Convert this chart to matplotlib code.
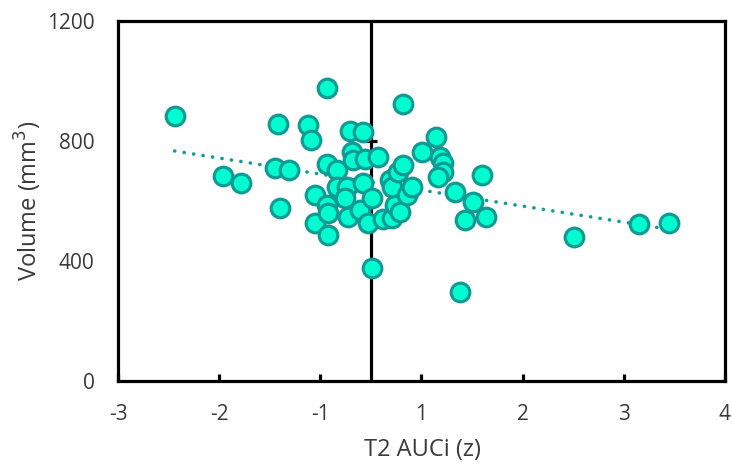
import numpy as np
import matplotlib.pyplot as plt

plt.rcParams['font.family'] = ['Open Sans', 'DejaVu Sans']

# T2 AUCi (z) position on the drawn axis and volume (mm3)
auci = np.array([-2.44, -1.96, -1.78, -1.42, -1.40, -1.45, -1.31, -1.12, -1.09, -1.05,
                 -1.05, -0.93, -0.93, -0.93, -0.92, -0.92, -0.84, -0.84, -0.74, -0.76,
                 -0.73, -0.71, -0.69, -0.68, -0.61, -0.58, -0.58, -0.56, -0.53, -0.49,
                 -0.49, -0.43, -0.38, -0.29, -0.26, -0.21, -0.31, -0.29, -0.23, -0.18,
                 -0.14, -0.09, -0.18, 0.01, 0.14, 0.18, 0.21, 0.21, 0.16, 0.33,
                 0.51, 0.60, 0.43, 0.64, 0.38, 1.51, 2.15, 2.45])
volume = np.array([884, 684, 661, 857, 578, 711, 704, 854, 804, 621,
                   528, 977, 724, 588, 561, 488, 704, 647, 647, 611,
                   548, 834, 764, 737, 571, 831, 661, 740, 528, 611,
                   378, 747, 541, 544, 588, 564, 671, 647, 697, 721,
                   621, 647, 924, 764, 814, 747, 727, 697, 681, 631,
                   598, 687, 538, 548, 298, 481, 524, 528])

xtick_pos = [-3, -2, -1, 0, 1, 2, 3]
xtick_lab = ['-3', '-2', '-1', '1', '2', '3', '4']
yticks = [0, 400, 800, 1200]
y_axis_at = -0.5

fig = plt.figure(figsize=(7.32, 4.69), dpi=100)
ax = fig.add_axes([0.1612, 0.1866, 0.8292, 0.7686])

# trend line (linear fit)
k, b = np.polyfit(auci, volume, 1)
xt = np.array([auci.min(), auci.max()])
ax.plot(xt, k * xt + b, color='#139c95', lw=2.6,
        linestyle=(0, (0.05, 2.6)), dash_capstyle='round', zorder=2)

ax.scatter(auci, volume, s=180, facecolor='#00fccf', edgecolor='#0f9b94',
           linewidths=2.3, zorder=3)

# y axis crossing inside the plot
ax.axvline(y_axis_at, color='black', lw=2.3, zorder=1)
ax.plot([y_axis_at] * 2, yticks[1:3], linestyle='none', marker='_',
        markersize=9, markeredgewidth=2.3, color='black', zorder=1)

ax.set_xlim(-3, 3)
ax.set_ylim(0, 1200)
ax.set_xticks(xtick_pos)
ax.set_xticklabels(xtick_lab)
ax.set_yticks(yticks)

for s in ax.spines.values():
    s.set_linewidth(2.3)
    s.set_color('black')

ax.tick_params(axis='x', direction='in', length=5, width=2.3, pad=16,
               labelsize=15, labelcolor='#3a3a3a')
ax.tick_params(axis='y', length=0, pad=17, labelsize=15, labelcolor='#3a3a3a')

ax.set_xlabel('T2 AUCi (z)', fontsize=17, color='#3a3a3a')
ax.set_ylabel('Volume (mm$^3$)', fontsize=17, color='#3a3a3a')
ax.xaxis.set_label_coords(0.502, -0.158)
ax.yaxis.set_label_coords(-0.122, 0.5)

fig.savefig('out.png', dpi=100)
